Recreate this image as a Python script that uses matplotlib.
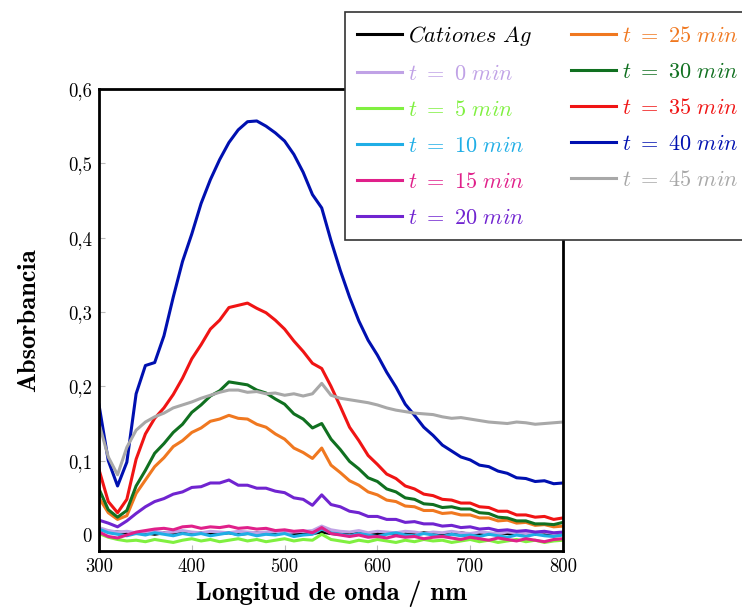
import matplotlib
matplotlib.use("Agg")
import matplotlib.pyplot as plt
from matplotlib.ticker import FixedLocator, FuncFormatter

plt.rcParams['mathtext.fontset'] = 'cm'

wavelength = list(range(300, 801, 10))

cationes_ag = [0.008, 0.005, 0.004, 0.003, 0.002, 0.003, 0.001, 0.003, 0.002, 0.004, 0.002,
               0.003, 0.001, 0.002, 0.003, 0.001, 0.002, 0.003, 0.002, 0.001, 0.003, 0.002,
               0.001, 0.002, 0.004, 0.002, 0.001, 0.003, 0.002, 0.001, 0.002, 0.003, 0.001,
               0.002, 0.001, 0.003, 0.002, 0.001, 0.002, 0.003, 0.001, 0.002, 0.001, 0.003,
               0.002, 0.001, 0.002, 0.001, 0.002, 0.001, 0.002]
t0 = [0.010, 0.006, 0.004, 0.005, 0.003, 0.004, 0.005, 0.003, 0.004, 0.006, 0.004,
      0.003, 0.005, 0.004, 0.003, 0.005, 0.004, 0.003, 0.004, 0.005, 0.003, 0.004,
      0.005, 0.006, 0.012, 0.007, 0.005, 0.004, 0.006, 0.003, 0.005, 0.004, 0.003,
      0.005, 0.004, 0.002, 0.004, 0.003, 0.005, 0.003, 0.002, 0.004, 0.003, 0.002,
      0.004, 0.003, 0.002, 0.003, 0.004, 0.002, 0.003]
t5 = [0.002, -0.003, -0.006, -0.008, -0.007, -0.009, -0.006, -0.008, -0.010, -0.007, -0.005,
      -0.008, -0.006, -0.009, -0.007, -0.005, -0.008, -0.006, -0.009, -0.007, -0.005, -0.008,
      -0.006, -0.007, 0.001, -0.006, -0.008, -0.010, -0.007, -0.009, -0.006, -0.008, -0.010,
      -0.007, -0.009, -0.006, -0.008, -0.007, -0.010, -0.008, -0.006, -0.009, -0.007, -0.010,
      -0.008, -0.006, -0.009, -0.007, -0.010, -0.008, -0.007]
t10 = [0.008, 0.003, 0.001, -0.001, 0.002, 0.000, 0.003, 0.001, -0.001, 0.002, 0.000,
       0.002, -0.001, 0.001, 0.003, 0.000, 0.002, -0.001, 0.001, 0.000, 0.002, -0.002,
       0.000, 0.001, 0.008, 0.003, 0.001, -0.001, 0.002, 0.000, -0.002, 0.001, 0.003,
       0.000, -0.001, 0.002, 0.000, -0.002, 0.001, -0.001, 0.000, -0.002, 0.001, -0.001,
       -0.003, 0.000, -0.002, 0.001, -0.001, -0.002, 0.000]
t15 = [0.004, -0.002, -0.004, 0.000, 0.004, 0.006, 0.008, 0.009, 0.007, 0.011, 0.012,
       0.009, 0.011, 0.010, 0.012, 0.009, 0.010, 0.008, 0.009, 0.006, 0.007, 0.005,
       0.006, 0.003, 0.010, 0.002, 0.000, -0.002, 0.000, -0.003, -0.002, -0.004, -0.001,
       -0.003, -0.002, -0.005, -0.003, -0.002, -0.004, -0.006, -0.003, -0.005, -0.007,
       -0.004, -0.006, -0.008, -0.005, -0.007, -0.009, -0.006, -0.005]
t20 = [0.020, 0.016, 0.011, 0.019, 0.029, 0.038, 0.045, 0.049, 0.055, 0.058, 0.064,
       0.065, 0.070, 0.070, 0.074, 0.067, 0.067, 0.063, 0.063, 0.059, 0.057, 0.050,
       0.048, 0.040, 0.054, 0.041, 0.038, 0.032, 0.030, 0.025, 0.025, 0.021, 0.021,
       0.017, 0.018, 0.015, 0.015, 0.012, 0.013, 0.010, 0.011, 0.008, 0.009, 0.006,
       0.007, 0.005, 0.006, 0.004, 0.005, 0.003, 0.004]
t25 = [0.050, 0.030, 0.021, 0.026, 0.056, 0.074, 0.092, 0.104, 0.119, 0.127, 0.138,
       0.144, 0.153, 0.156, 0.161, 0.157, 0.156, 0.149, 0.145, 0.136, 0.129, 0.117,
       0.111, 0.103, 0.117, 0.094, 0.084, 0.073, 0.067, 0.058, 0.054, 0.047, 0.045,
       0.039, 0.038, 0.033, 0.033, 0.029, 0.030, 0.027, 0.027, 0.023, 0.023, 0.019,
       0.020, 0.016, 0.017, 0.013, 0.014, 0.011, 0.012]
t30 = [0.062, 0.034, 0.024, 0.033, 0.066, 0.087, 0.110, 0.123, 0.138, 0.149, 0.165,
       0.175, 0.187, 0.194, 0.206, 0.204, 0.202, 0.195, 0.191, 0.183, 0.176, 0.163,
       0.156, 0.144, 0.150, 0.129, 0.115, 0.099, 0.089, 0.077, 0.072, 0.062, 0.058,
       0.050, 0.048, 0.042, 0.041, 0.037, 0.038, 0.035, 0.035, 0.030, 0.029, 0.024,
       0.023, 0.019, 0.019, 0.015, 0.015, 0.014, 0.017]
t35 = [0.088, 0.045, 0.030, 0.048, 0.102, 0.136, 0.157, 0.171, 0.189, 0.211, 0.237,
       0.256, 0.277, 0.289, 0.306, 0.309, 0.312, 0.305, 0.299, 0.289, 0.277, 0.261,
       0.247, 0.231, 0.224, 0.200, 0.173, 0.145, 0.127, 0.107, 0.095, 0.082, 0.076,
       0.066, 0.062, 0.055, 0.053, 0.048, 0.047, 0.043, 0.043, 0.038, 0.037, 0.032,
       0.032, 0.027, 0.027, 0.024, 0.025, 0.021, 0.023]
t40 = [0.175, 0.100, 0.066, 0.098, 0.190, 0.228, 0.232, 0.268, 0.320, 0.368, 0.405,
       0.446, 0.478, 0.505, 0.528, 0.545, 0.556, 0.557, 0.550, 0.541, 0.530, 0.512,
       0.488, 0.458, 0.440, 0.396, 0.356, 0.320, 0.288, 0.262, 0.242, 0.219, 0.199,
       0.176, 0.161, 0.145, 0.134, 0.121, 0.113, 0.105, 0.101, 0.094, 0.092, 0.086,
       0.083, 0.077, 0.076, 0.072, 0.073, 0.069, 0.070]
t45 = [0.150, 0.105, 0.081, 0.118, 0.141, 0.152, 0.159, 0.164, 0.171, 0.175, 0.179,
       0.184, 0.188, 0.192, 0.195, 0.195, 0.192, 0.193, 0.190, 0.191, 0.188, 0.190,
       0.187, 0.190, 0.204, 0.188, 0.184, 0.182, 0.180, 0.178, 0.175, 0.171, 0.168,
       0.166, 0.164, 0.163, 0.162, 0.159, 0.157, 0.158, 0.156, 0.154, 0.152, 0.151,
       0.150, 0.152, 0.151, 0.149, 0.150, 0.151, 0.152]

series = [cationes_ag, t0, t5, t10, t15, t20, t25, t30, t35, t40, t45]
labels = [r'$Cationes\ Ag$', r'$t\ =\ 0\ min$', r'$t\ =\ 5\ min$', r'$t\ =\ 10\ min$',
          r'$t\ =\ 15\ min$', r'$t\ =\ 20\ min$', r'$t\ =\ 25\ min$', r'$t\ =\ 30\ min$',
          r'$t\ =\ 35\ min$', r'$t\ =\ 40\ min$', r'$t\ =\ 45\ min$']
colors = ['#000000', '#c0a2e6', '#80f040', '#20aee6', '#e0208a', '#7024d0',
          '#f07820', '#107020', '#f01414', '#0010b0', '#a8a8a8']

xticks = [300, 400, 500, 600, 700, 800]
yticks = [0, 0.1, 0.2, 0.3, 0.4, 0.5, 0.6]

fig = plt.figure(figsize=(7.42, 6.08), dpi=100)
ax = fig.add_axes([99/742, 1-551/608, (563-99)/742, (551-89)/608])

for y, lab, c in zip(series, labels, colors):
    ax.plot(wavelength, y, color=c, lw=2.2, label=lab)

ax.set_xlim(300, 800)
ax.set_ylim(-0.0215, 0.6)
ax.xaxis.set_major_locator(FixedLocator(xticks))
ax.yaxis.set_major_locator(FixedLocator(yticks))
ax.yaxis.set_major_formatter(FuncFormatter(lambda v, p: ('%.1f' % v).replace('.', ',') if v != 0 else '0'))
ax.tick_params(direction='in', length=4, width=0.8, color='#bbbbbb', labelsize=13.5,
               labelfontfamily='cmr10', pad=5)
for s in ax.spines.values():
    s.set_linewidth(2.0)
    s.set_color('black')

ax.set_xlabel('Longitud de onda / nm', fontfamily='cmb10', fontsize=19, labelpad=3.5)
ax.set_ylabel('Absorbancia', fontfamily='cmb10', fontsize=19, labelpad=20)

leg = fig.legend(loc='upper left', bbox_to_anchor=(345/742, 1-12/608), ncol=2,
                 fontsize=16, frameon=True, fancybox=False, framealpha=1,
                 edgecolor='#333333', handlelength=2.0, handletextpad=0.3,
                 columnspacing=1.75, labelspacing=0.72, borderpad=0.55, borderaxespad=0)
leg.get_frame().set_linewidth(1.2)
for txt, ln in zip(leg.get_texts(), leg.get_lines()):
    txt.set_color(ln.get_color())

fig.savefig('out.png', dpi=100)
